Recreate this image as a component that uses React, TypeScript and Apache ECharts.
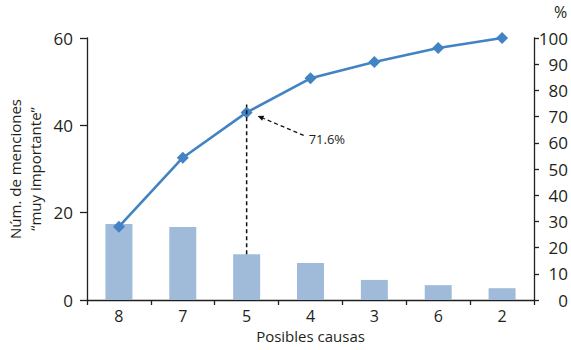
import React, { useEffect, useRef } from "react";
import * as echarts from "echarts";

// Pareto data: mentions per cause and cumulative share (%)
const categories = ["8", "7", "5", "4", "3", "6", "2"];
const menciones = [17.4, 16.7, 10.5, 8.5, 4.6, 3.4, 2.7];
const acumulado = [28.0, 54.3, 71.6, 84.6, 90.8, 96.2, 100];
const highlightIndex = 2;
const highlightLabel = "71.6%";

const FONT = "'Open Sans', 'Noto Sans', sans-serif";
const INK = "#231f20";
const BAR = "#a0bbd9";
const LINE = "#4283c3";

export default function App() {
  const ref = useRef<HTMLDivElement>(null);

  useEffect(() => {
    if (!ref.current) return;
    const chart = echarts.init(ref.current, null, { renderer: "svg" });
    chart.setOption({
      animation: false,
      textStyle: { fontFamily: FONT },
      grid: { left: 87, right: 34, top: 38, bottom: 50 },
      xAxis: {
        type: "category",
        data: categories,
        name: "Posibles causas",
        nameLocation: "middle",
        nameGap: 27,
        nameTextStyle: { color: INK, fontSize: 15, fontFamily: FONT },
        axisLine: { lineStyle: { color: INK, width: 1.3 } },
        axisTick: { show: true, length: 5, lineStyle: { color: INK, width: 1.3 } },
        axisLabel: { color: INK, fontSize: 16, margin: 8, fontFamily: FONT },
      },
      yAxis: [
        {
          type: "value",
          min: 0,
          max: 60,
          interval: 20,
          splitLine: { show: false },
          axisLine: { show: true, lineStyle: { color: INK, width: 1.3 } },
          axisTick: { show: true, length: 7, lineStyle: { color: INK, width: 1.3 } },
          axisLabel: { color: INK, fontSize: 17, margin: 14, fontFamily: FONT },
        },
        {
          type: "value",
          min: 0,
          max: 100,
          interval: 10,
          position: "right",
          splitLine: { show: false },
          axisLine: { show: true, lineStyle: { color: INK, width: 1.3 } },
          axisTick: { show: true, length: 5, lineStyle: { color: INK, width: 1.3 } },
          axisLabel: {
            color: INK,
            fontSize: 17,
            margin: 34,
            align: "right",
            fontFamily: FONT,
          },
        },
      ],
      series: [
        {
          type: "bar",
          data: menciones,
          barWidth: 27,
          itemStyle: { color: BAR },
          z: 1,
        },
        {
          type: "line",
          yAxisIndex: 1,
          data: acumulado,
          symbol: "diamond",
          symbolSize: 12,
          lineStyle: { color: LINE, width: 2.6 },
          itemStyle: { color: LINE },
          z: 3,
        },
      ],
      graphic: [],
    });

    // Annotation anchored on the highlighted cumulative point
    const [px, py] = chart.convertToPixel({ seriesIndex: 1 }, [highlightIndex, acumulado[highlightIndex]]) as number[];
    const [bx, by] = chart.convertToPixel({ seriesIndex: 0 }, [highlightIndex, menciones[highlightIndex]]) as number[];

    const tail = [px + 57, py + 23];
    const tip = [px + 11, py + 3.5];
    const dx = tip[0] - tail[0];
    const dy = tip[1] - tail[1];
    const len = Math.hypot(dx, dy);
    const ux = dx / len;
    const uy = dy / len;
    const head = 6;
    const half = 2.6;
    const base = [tip[0] - ux * head, tip[1] - uy * head];

    chart.setOption({
      graphic: [
        {
          type: "text",
          left: 554,
          top: 4,
          style: { text: "%", fill: INK, font: `16px ${FONT}` },
        },
        {
          type: "text",
          x: 25,
          y: 169,
          rotation: Math.PI / 2,
          style: {
            text: "Núm. de menciones\n“muy importante”",
            fill: INK,
            font: `15px ${FONT}`,
            align: "center",
            verticalAlign: "middle",
            lineHeight: 20,
          },
        },
        {
          type: "line",
          shape: { x1: bx, y1: by, x2: px, y2: py - 8 },
          style: { stroke: "#111", lineWidth: 1.5, lineDash: [4, 3] },
          z: 10,
        },
        {
          type: "line",
          shape: { x1: tail[0], y1: tail[1], x2: base[0], y2: base[1] },
          style: { stroke: "#111", lineWidth: 1.3, lineDash: [4, 3] },
          z: 10,
        },
        {
          type: "polygon",
          shape: {
            points: [
              tip,
              [base[0] - uy * half, base[1] + ux * half],
              [base[0] + uy * half, base[1] - ux * half],
            ],
          },
          style: { fill: "#111" },
          z: 10,
        },
        {
          type: "text",
          x: px + 62,
          y: py + 27,
          style: {
            text: highlightLabel,
            fill: INK,
            font: `13px ${FONT}`,
            verticalAlign: "middle",
          },
          z: 10,
        },
      ],
    });

    return () => chart.dispose();
  }, []);

  return (
    <div
      ref={ref}
      style={{ position: "fixed", left: 0, top: 0, width: 571, height: 350, background: "#fff" }}
    />
  );
}
